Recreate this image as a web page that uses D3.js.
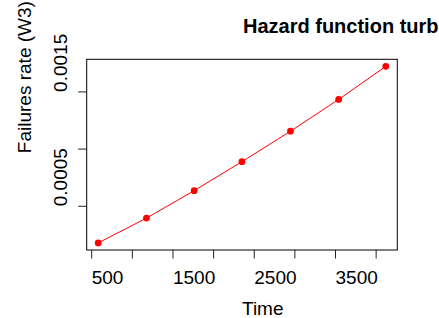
<!DOCTYPE html>
<html>
<head>
<meta charset="utf-8">
<script src="https://cdn.jsdelivr.net/npm/d3@7"></script>
<style>
  body { margin: 0; background: #fff; }
  svg { display: block; font-family: "Liberation Sans", Arial, sans-serif; }
  .axis path { display: none; }
  .axis line { stroke: #222; }
  .axis text { fill: #000; font-size: 19px; font-family: "Liberation Sans", Arial, sans-serif; }
</style>
</head>
<body>
<svg id="chart" width="439" height="318"></svg>
<script>
// hazard estimates
var times = [586, 1180, 1767, 2355, 2952, 3545, 4125];
var rates = [0.000175, 0.000392, 0.000632, 0.000886, 0.001152, 0.00143, 0.001719];
var xTicks = [500, 1000, 1500, 2000, 2500, 3000, 3500, 4000];
var xLabels = [500, 1500, 2500, 3500];
var yTicks = [0.0005, 0.0010, 0.0015];
var yLabels = ['0.0005', '0.0015'];

var box = {left: 86.7, top: 59.3, right: 397.3, bottom: 250};
var svg = d3.select('#chart');

// R style limits: data range + 4% each side
function pad(ext) {
  var d = (ext[1] - ext[0]) * 0.04;
  return [ext[0] - d, ext[1] + d];
}

var x = d3.scaleLinear().domain(pad(d3.extent(times))).range([box.left, box.right]);
var y = d3.scaleLinear().domain(pad(d3.extent(rates))).range([box.bottom, box.top]);

// x axis
var xa = svg.append('g')
  .attr('class', 'axis')
  .attr('transform', 'translate(0,' + box.bottom + ')')
  .call(d3.axisBottom(x)
    .tickValues(xTicks)
    .tickSize(8.5)
    .tickFormat(function(d) { return xLabels.indexOf(d) >= 0 ? d : ''; }));
xa.selectAll('text')
  .attr('text-anchor', 'start')
  .attr('dy', null)
  .attr('y', 33.5);

// y axis
var ya = svg.append('g')
  .attr('class', 'axis')
  .attr('transform', 'translate(' + box.left + ',0)')
  .call(d3.axisLeft(y)
    .tickValues(yTicks)
    .tickSize(8.5)
    .tickFormat(function(d) {
      var s = d3.format('.4f')(d);
      return yLabels.indexOf(s) >= 0 ? s : '';
    }));
ya.selectAll('text')
  .attr('text-anchor', 'start')
  .attr('dy', null)
  .attr('x', null)
  .attr('transform', 'translate(-20.2,0) rotate(-90)');

// frame
svg.append('rect')
  .attr('x', box.left).attr('y', box.top)
  .attr('width', box.right - box.left)
  .attr('height', box.bottom - box.top)
  .attr('fill', 'none')
  .attr('stroke', '#000')
  .attr('stroke-width', 1);

// series
var line = d3.line()
  .x(function(d, i) { return x(times[i]); })
  .y(function(d) { return y(d); });

svg.append('path')
  .datum(rates)
  .attr('d', line)
  .attr('fill', 'none')
  .attr('stroke', '#ff0000')
  .attr('stroke-width', 1);

svg.selectAll('circle.pt')
  .data(rates)
  .enter().append('circle')
  .attr('class', 'pt')
  .attr('cx', function(d, i) { return x(times[i]); })
  .attr('cy', function(d) { return y(d); })
  .attr('r', 3.4)
  .attr('fill', '#ff0000');

// titles
var cx = (box.left + box.right) / 2;
var cy = (box.top + box.bottom) / 2;

svg.append('text')
  .attr('x', cx + 1)
  .attr('y', 33)
  .attr('font-size', 20)
  .attr('font-weight', 'bold')
  .text('Hazard function turb');

svg.append('text')
  .attr('x', cx)
  .attr('y', 315)
  .attr('font-size', 19)
  .text('Time');

svg.append('text')
  .attr('transform', 'translate(30.5,' + (cy - 1.5) + ') rotate(-90)')
  .attr('font-size', 19)
  .text('Failures rate (W3)');
</script>
</body>
</html>
